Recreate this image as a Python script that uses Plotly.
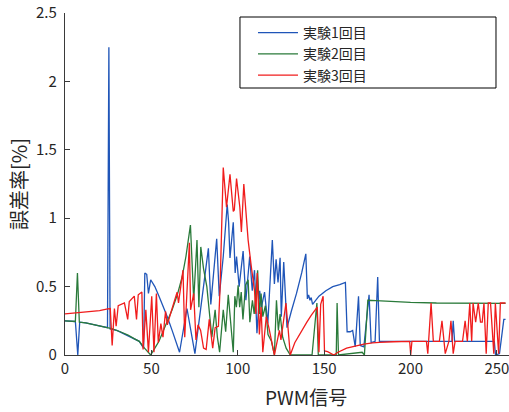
import plotly.graph_objects as go

# ---------------- data ----------------
series_names = ["実験1回目", "実験2回目", "実験3回目"]

x1 = [0, 3, 6, 7.4, 8.5, 12, 17, 22, 24.6, 25.4, 26.1, 30, 35, 40, 43, 45.5,
      46.2, 47.3, 48.3, 49.6, 52, 54.4, 57, 59.2, 62, 64, 66.3, 70.6, 75.2, 83,
      84.4, 87.8, 89.3, 91.6, 93.9, 94.7, 95.5, 97.4, 98.5, 99.3, 100.8, 103.1,
      104.7, 106.9, 108.4, 109.7, 111.1, 112.7, 113.7, 115.5, 117.4, 120, 121.2,
      122.2, 123.3, 124.5, 125.2, 126.6, 127.5, 128.5, 131, 134, 137, 139.4,
      140.3, 141, 141.8, 142.5, 143.3, 147, 151, 155, 159, 162.3, 163.3, 165,
      166.5, 168, 169.9, 170.9, 173, 176, 177.2, 179.5, 181, 182, 190, 200, 210,
      224, 224.7, 225.5, 240, 248.5, 249.2, 251.5, 254, 255]
y1 = [0.25, 0.248, 0.245, 0.0, 0.24, 0.235, 0.222, 0.208, 0.20, 2.25, 0.19, 0.18,
      0.15, 0.12, 0.10, 0.05,
      0.60, 0.59, 0.45, 0.55, 0.50, 0.43, 0.35, 0.28, 0.18, 0.11, 0.02, 0.34, 0.01, 0.78,
      0.37, 0.85, 0.43, 0.72, 1.10, 0.97, 0.71, 0.97, 0.60, 0.72, 0.50, 0.76,
      0.40, 0.72, 0.47, 0.62, 0.16, 0.47, 0.35, 0.46, 0.23, 0.84, 0.52,
      0.70, 0.53, 0.71, 0.28, 0.68, 0.45, 0.20, 0.32, 0.45, 0.60, 0.74,
      0.41, 0.44, 0.40, 0.42, 0.37, 0.43, 0.47, 0.50, 0.515, 0.53, 0.17, 0.17,
      0.18, 0.06, 0.43, 0.07, 0.06, 0.44, 0.09, 0.10, 0.57, 0.10, 0.10, 0.10, 0.10,
      0.10, 0.25, 0.10, 0.10, 0.10, 0.0, 0.01, 0.26, 0.26]

x2 = [0, 3, 6, 7.2, 8.3, 12, 17, 22, 27, 32, 36.5, 40, 43, 46, 49.6, 52, 54.4,
      58, 62, 65, 67.8, 70, 72.6, 74.5, 76.4, 77.5, 78.6, 80.2, 82.1, 85, 86.9,
      88.2, 89.5, 91.6, 93, 94.5, 96.2, 97.4, 98.3, 99.2, 100.2, 101.1, 102,
      103, 104.5, 106, 107, 108.5, 109.5, 111.5, 112.5, 113.5, 114.5, 116,
      117.5, 119.5, 121.2, 122.4, 123.5, 124.5, 126, 128, 130.4, 135, 143,
      145.8, 146.6, 157, 157.5, 158.3, 165, 172, 173.3, 175.3, 180, 190, 200,
      215, 230, 255]
y2 = [0.25, 0.248, 0.245, 0.60, 0.24, 0.235, 0.222, 0.208, 0.193, 0.17, 0.146,
      0.12, 0.10, 0.05, 0.0, 0.05, 0.10,
      0.21, 0.33, 0.44, 0.57, 0.72, 0.95, 0.40, 0.84, 0.35, 0.79, 0.63, 0.50, 0.13, 0.33,
      0.13, 0.02, 0.33, 0.17, 0.44, 0.21, 0.02, 0.43, 0.35, 0.51, 0.35, 0.46,
      0.26, 0.51, 0.55, 0.24, 0.40, 0.30, 0.62, 0.30, 0.45, 0.28, 0.36,
      0.15, 0.10, 0.0, 0.40, 0.18, 0.30, 0.13, 0.05, 0.0, 0.0, 0.0,
      0.38, 0.0, 0.0, 0.38, 0.0, 0.01, 0.02, 0.0, 0.40, 0.398, 0.39, 0.385,
      0.38, 0.38, 0.378]

x3 = [0, 5, 10, 15, 20, 24, 26.2, 27.3, 28.6, 29.6, 30.8, 34.4, 36.3, 37.2,
      40.1, 41.4, 42.4, 44.5, 45.2, 46.8, 48.3, 50.2, 51.5, 52.9, 54, 55.5,
      56.7, 58.2, 59.2, 62, 64.9, 65.7, 68.3, 69.3, 72, 72.7, 74.5, 75.8, 77,
      78.5, 80.2, 81.7, 83.5, 85.5, 86.9, 88.8, 89.7, 91.6, 93.5, 95.5, 97.4,
      98, 99.3, 101.2, 102.1, 103.5, 106, 107.8, 109.7, 110.5, 111.3, 112.5,
      113.5, 114.5, 116.5, 118, 121.2, 124.1, 125, 127.9, 130.4, 133, 136.5,
      140, 142.5, 145, 146, 147, 148, 149.4, 150.2, 152, 155.6, 158, 163, 168,
      173, 178, 182, 190, 199.5, 200.1, 200.8, 209.2, 210, 211.9, 213.2, 216.7,
      218.2, 220.1, 222.2, 223.4, 224.7, 225.8, 230.1, 231.6, 232.9, 234.3,
      235.4, 236.2, 237.7, 239.2, 240.5, 241.5, 242.5, 243.8, 245, 246.3,
      248.2, 249.1, 251, 252, 255]
y3 = [0.30, 0.305, 0.31, 0.318, 0.325, 0.335, 0.34, 0.07, 0.34, 0.21, 0.36, 0.38,
      0.26, 0.39, 0.43, 0.26, 0.44, 0.46, 0.04, 0.33, 0.02, 0.43, 0.02, 0.45,
      0.09, 0.23, 0.13, 0.32, 0.22, 0.34, 0.46, 0.38, 0.62, 0.13, 0.82, 0.33,
      0.45, 0.11, 0.22, 0.18, 0.05, 0.04, 0.26, 0.05, 0.20, 0.21, 0.47, 1.37,
      1.08, 1.32, 1.05, 1.06, 1.29, 1.08, 0.90, 1.25, 0.84, 0.65, 0.47, 0.30,
      0.60, 0.15, 0.35, 0.02, 0.28, 0.20, 0.0, 0.18, 0.11, 0.38, 0.0, 0.09,
      0.17, 0.24, 0.29, 0.33, 0.35, 0.02, 0.37, 0.43, 0.03, 0.025, 0.0, 0.02,
      0.05, 0.065, 0.08, 0.088, 0.093, 0.097, 0.10, 0.0, 0.10, 0.10, 0.01,
      0.38, 0.10, 0.10, 0.25, 0.01, 0.10, 0.25, 0.01, 0.10, 0.10, 0.25, 0.10,
      0.38, 0.10, 0.38, 0.24, 0.38, 0.24, 0.24, 0.38, 0.01, 0.38, 0.38, 0.01,
      0.38, 0.01, 0.38, 0.38]

x_ticks = [0, 50, 100, 150, 200, 250]
y_ticks = [0, 0.5, 1, 1.5, 2, 2.5]
x_title = "PWM信号"
y_title = "誤差率[%]"

colors = ["#1f55b8", "#2a7a3a", "#f01c1c"]

# ---------------- figure ----------------
FONT = "Noto Sans CJK JP"
AX = "#3a3a3a"

fig = go.Figure()
for xs, ys, name, c in zip([x1, x2, x3], [y1, y2, y3], series_names, colors):
    fig.add_trace(go.Scatter(x=xs, y=ys, mode="lines", name=name,
                             line=dict(color=c, width=1.3)))

fig.update_layout(
    width=509, height=412,
    margin=dict(l=65, r=0, t=13, b=57),
    paper_bgcolor="white", plot_bgcolor="white",
    font=dict(family=FONT, size=15, color="#262626"),
    showlegend=True,
    legend=dict(x=0.4234, y=0.988, xanchor="left", yanchor="top",
                bgcolor="rgba(0,0,0,0)", borderwidth=0,
                font=dict(family=FONT, size=14, color="#262626"),
                tracegroupgap=0, itemwidth=40),
    shapes=[dict(type="rect", xref="paper", yref="paper",
                 x0=0.3941, x1=0.9707, y0=0.7807, y1=0.9883,
                 line=dict(color="#000000", width=1), fillcolor="white",
                 layer="above")],
    annotations=[dict(text=x_title, xref="paper", yref="paper",
                      x=0.543, y=-0.1228, xanchor="center", yanchor="middle",
                      showarrow=False, font=dict(size=19, family=FONT, color="#262626"))],
)
fig.update_xaxes(range=[0, 257], tickvals=x_ticks, ticks="inside", ticklen=5,
                 tickcolor=AX, showline=True, linecolor=AX, linewidth=1.3,
                 showgrid=False, zeroline=False, mirror=False,
                 ticklabeloverflow="allow", automargin=False,
                 tickfont=dict(size=15))
fig.update_yaxes(range=[0, 2.5], tickvals=y_ticks, ticks="inside", ticklen=5,
                 tickcolor=AX, showline=True, linecolor=AX, linewidth=1.3,
                 showgrid=False, zeroline=False, mirror=False, automargin=False,
                 title=dict(text=y_title, font=dict(size=20, family=FONT), standoff=3),
                 tickfont=dict(size=15), ticklabelstandoff=4)

fig.write_html("out.html")
